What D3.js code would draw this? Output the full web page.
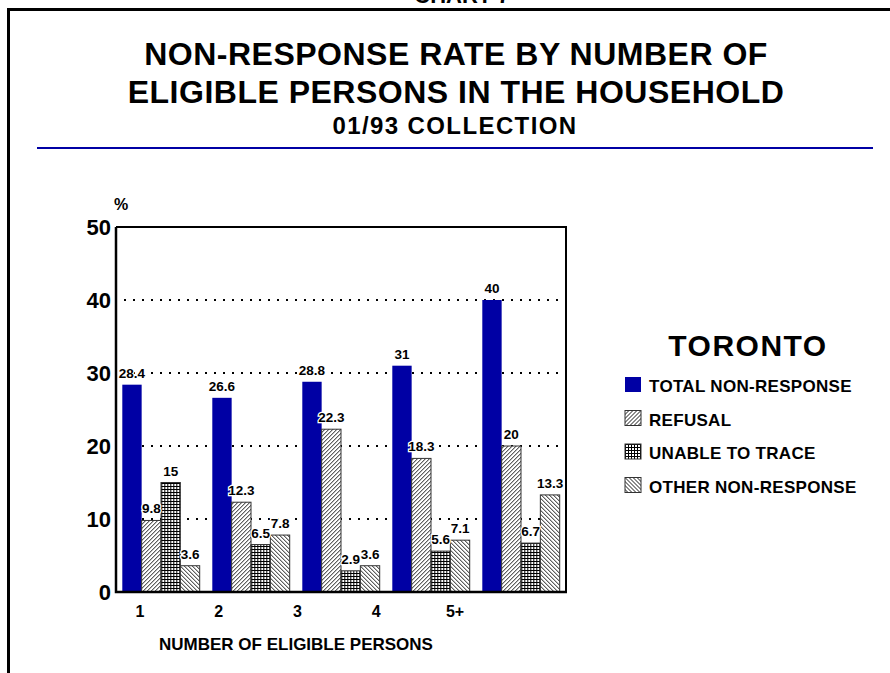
<!DOCTYPE html>
<html>
<head>
<meta charset="utf-8">
<script src="https://cdn.jsdelivr.net/npm/d3@7"></script>
<style>
  body { margin: 0; background: #fff; }
  svg { display: block; font-family: "Liberation Sans", Arial, sans-serif; font-weight: bold; }
</style>
</head>
<body>
<svg id="chart"></svg>
<script>
// Data
const categories = ['1', '2', '3', '4', '5+'];
const seriesNames = ['TOTAL NON-RESPONSE', 'REFUSAL', 'UNABLE TO TRACE', 'OTHER NON-RESPONSE'];
const totalNonResponse = [28.4, 26.6, 28.8, 31, 40];
const refusal = [9.8, 12.3, 22.3, 18.3, 20];
const unableToTrace = [15, 6.5, 2.9, 5.6, 6.7];
const otherNonResponse = [3.6, 7.8, 3.6, 7.1, 13.3];
const yTicks = [0, 10, 20, 30, 40, 50];

const seriesValues = [totalNonResponse, refusal, unableToTrace, otherNonResponse];
const fills = ['#0000a4', 'url(#refusal)', 'url(#unable)', 'url(#other)'];

// Chart dimensions
const width = 890;
const height = 673;
const plot = { left: 116, right: 566, top: 227, bottom: 592 };

const svg = d3.select('#chart')
  .attr('width', width)
  .attr('height', height);

// Patterns
const defs = svg.append('defs');
const p1 = defs.append('pattern').attr('id', 'refusal')
  .attr('patternUnits', 'userSpaceOnUse').attr('width', 4).attr('height', 4);
p1.append('rect').attr('width', 4).attr('height', 4).attr('fill', '#fff');
p1.append('path').attr('d', 'M-1,1 l2,-2 M0,4 l4,-4 M3,5 l2,-2')
  .attr('stroke', '#000').attr('stroke-width', 0.9);

const p3 = defs.append('pattern').attr('id', 'other')
  .attr('patternUnits', 'userSpaceOnUse').attr('width', 4).attr('height', 4);
p3.append('rect').attr('width', 4).attr('height', 4).attr('fill', '#fff');
p3.append('path').attr('d', 'M-1,3 l2,2 M0,0 l4,4 M3,-1 l2,2')
  .attr('stroke', '#000').attr('stroke-width', 0.9);

const p2 = defs.append('pattern').attr('id', 'unable')
  .attr('patternUnits', 'userSpaceOnUse').attr('width', 3).attr('height', 3);
p2.append('rect').attr('width', 3).attr('height', 3).attr('fill', '#000');
p2.append('rect').attr('x', 1).attr('y', 1).attr('width', 2).attr('height', 2).attr('fill', '#fff');

// Page frame
svg.append('path')
  .attr('d', `M8.5,673 V9.5 H890`)
  .attr('fill', 'none').attr('stroke', '#000').attr('stroke-width', 3);

// page heading, cut at the top as in the scan
svg.append('text').attr('x', 462).attr('y', 3).attr('text-anchor', 'middle')
  .attr('font-size', 22).text('CHART 7');

// Titles
svg.append('text').attr('x', 456).attr('y', 65).attr('text-anchor', 'middle')
  .attr('font-size', 32).attr('letter-spacing', 0.5).text('NON-RESPONSE RATE BY NUMBER OF');
svg.append('text').attr('x', 456).attr('y', 103).attr('text-anchor', 'middle')
  .attr('font-size', 32).attr('letter-spacing', 0.5).text('ELIGIBLE PERSONS IN THE HOUSEHOLD');
svg.append('text').attr('x', 455).attr('y', 134).attr('text-anchor', 'middle')
  .attr('font-size', 24).attr('letter-spacing', 1.4).text('01/93 COLLECTION');

svg.append('line').attr('x1', 37).attr('x2', 873).attr('y1', 148).attr('y2', 148)
  .attr('stroke', '#0000a4').attr('stroke-width', 2);

// Scales
const x0 = d3.scaleBand().domain(categories)
  .range([plot.left, plot.right]).paddingInner(0.14).paddingOuter(0.07);
const x1 = d3.scaleBand().domain(d3.range(seriesNames.length))
  .range([0, x0.bandwidth()]);
const y = d3.scaleLinear().domain([0, 50]).range([plot.bottom, plot.top]);
const xLabel = d3.scalePoint().domain(categories).range([140, 455]);

// Gridlines
svg.append('g').selectAll('line')
  .data(yTicks.filter(t => t > 0 && t < 50))
  .enter().append('line')
  .attr('x1', plot.left + 8).attr('x2', plot.right)
  .attr('y1', d => y(d)).attr('y2', d => y(d))
  .attr('stroke', '#000').attr('stroke-width', 2)
  .attr('stroke-dasharray', '2,7');

// Y axis labels
svg.append('g').selectAll('text')
  .data(yTicks).enter().append('text')
  .attr('x', plot.left - 5).attr('y', d => y(d) + 8)
  .attr('text-anchor', 'end').attr('font-size', 22)
  .text(d => d);
svg.append('text').attr('x', 114).attr('y', 210).attr('font-size', 16).text('%');

// Bars
const groups = svg.append('g').selectAll('g')
  .data(categories).enter().append('g')
  .attr('transform', d => `translate(${x0(d)},0)`);

groups.selectAll('rect')
  .data((d, i) => seriesValues.map((s, k) => ({ k, v: s[i] })))
  .enter().append('rect')
  .attr('x', d => x1(d.k))
  .attr('y', d => y(d.v))
  .attr('width', x1.bandwidth())
  .attr('height', d => y(0) - y(d.v))
  .attr('fill', d => fills[d.k])
  .attr('stroke', d => d.k === 0 ? 'none' : '#333')
  .attr('stroke-width', 1);

// value labels knock out the dotted grid behind them
groups.selectAll('text')
  .data((d, i) => seriesValues.map((s, k) => ({ k, v: s[i] })))
  .enter().append('text')
  .attr('x', d => x1(d.k) + x1.bandwidth() / 2)
  .attr('y', d => y(d.v) - 7)
  .attr('text-anchor', 'middle').attr('font-size', 13.5)
  .attr('stroke', '#fff').attr('stroke-width', 2.5)
  .attr('paint-order', 'stroke')
  .text(d => d.v);

// Plot frame
svg.append('path')
  .attr('d', `M${plot.left},${plot.top} H${plot.right} V${plot.bottom}`)
  .attr('fill', 'none').attr('stroke', '#000').attr('stroke-width', 2);
svg.append('path')
  .attr('d', `M${plot.left},${plot.top} V${plot.bottom} H${plot.right + 1}`)
  .attr('fill', 'none').attr('stroke', '#000').attr('stroke-width', 2.5);

// X labels
svg.append('g').selectAll('text')
  .data(categories).enter().append('text')
  .attr('x', d => xLabel(d)).attr('y', 617)
  .attr('text-anchor', 'middle').attr('font-size', 16)
  .text(d => d);
svg.append('text').attr('x', 296).attr('y', 650).attr('text-anchor', 'middle')
  .attr('font-size', 17).text('NUMBER OF ELIGIBLE PERSONS');

// Legend
svg.append('text').attr('x', 748).attr('y', 356).attr('text-anchor', 'middle')
  .attr('font-size', 30).attr('letter-spacing', 1.5).text('TORONTO');
const legend = svg.append('g').selectAll('g')
  .data(seriesNames).enter().append('g')
  .attr('transform', (d, i) => `translate(625,${377 + i * 33.5})`);
legend.append('rect')
  .attr('width', 16).attr('height', 15)
  .attr('fill', (d, i) => fills[i])
  .attr('stroke', (d, i) => i === 0 ? 'none' : '#333');
legend.append('text').attr('x', 24).attr('y', 15)
  .attr('font-size', 17).attr('letter-spacing', 0.3).text(d => d);
</script>
</body>
</html>
